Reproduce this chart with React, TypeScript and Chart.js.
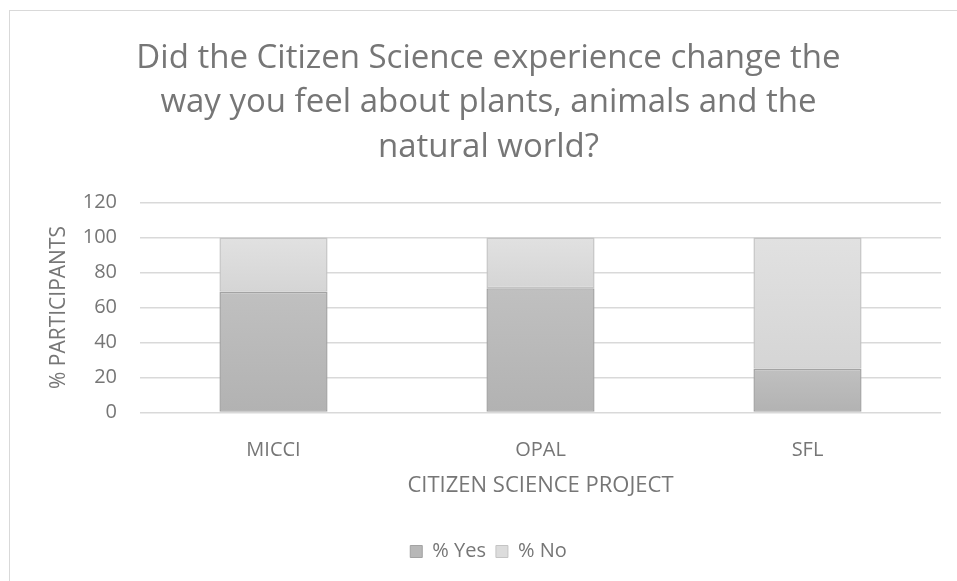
import { useEffect, useRef } from "react";
import { Chart, registerables } from "chart.js";

Chart.register(...registerables);

const titleLines = [
  "Did the Citizen Science experience change the",
  "way you feel about plants, animals and the",
  "natural world?",
];
const categories = ["MICCI", "OPAL", "SFL"];
const seriesNames = ["% Yes", "% No"];
const yesValues = [69, 71, 25];
const noValues = [31, 29, 75];
const yAxisTitle = "% PARTICIPANTS";
const xAxisTitle = "CITIZEN SCIENCE PROJECT";
const yMin = 0;
const yMax = 120;
const yStep = 20;

const FONT = "'Open Sans', Lato, sans-serif";
const TEXT = "#767676";

// fill / edge colours for each series: [top, bottom, border]
const palette = [
  { top: "#c0c0c0", bottom: "#b2b2b2", border: "#a3a3a3", legend: "#b8b8b8" },
  { top: "#e1e1e1", bottom: "#d5d5d5", border: "#c4c4c4", legend: "#dcdcdc" },
];

const seriesData = [yesValues, noValues];

function segmentGradient(ctx: any, series: number) {
  const chart = ctx.chart;
  const yScale = chart.scales?.y;
  const p = palette[series];
  if (ctx.type !== "data" || !yScale) return p.top;
  const i = ctx.dataIndex;
  let base = 0;
  for (let s = 0; s < series; s++) base += seriesData[s][i];
  const end = base + seriesData[series][i];
  const y0 = yScale.getPixelForValue(end);
  const y1 = yScale.getPixelForValue(base);
  if (!isFinite(y0) || !isFinite(y1) || y0 === y1) return p.top;
  const g = chart.ctx.createLinearGradient(0, y0, 0, y1);
  g.addColorStop(0, p.top);
  g.addColorStop(1, p.bottom);
  return g;
}

function BarChart() {
  const ref = useRef<HTMLCanvasElement | null>(null);

  useEffect(() => {
    if (!ref.current) return;
    const chart = new Chart(ref.current, {
      type: "bar",
      data: {
        labels: categories,
        datasets: seriesData.map((values, s) => ({
          label: seriesNames[s],
          data: values,
          backgroundColor: (ctx: any) => segmentGradient(ctx, s),
          borderColor: palette[s].border,
          borderWidth: 1.5,
          borderSkipped: false,
          barPercentage: 0.81,
          categoryPercentage: 0.5,
        })),
      },
      options: {
        animation: false,
        responsive: false,
        maintainAspectRatio: false,
        layout: { padding: { left: 36, right: 16, top: 0, bottom: 9.5 } },
        scales: {
          x: {
            stacked: true,
            grid: { display: false, drawTicks: false },
            border: { display: false },
            ticks: { color: TEXT, font: { family: FONT, size: 20 }, padding: 26 },
            title: {
              display: true,
              text: xAxisTitle,
              color: TEXT,
              font: { family: FONT, size: 22 },
              padding: { top: 0, bottom: 32.5 },
            },
            afterFit: (scale: any) => {
              scale.height = 119;
            },
          },
          y: {
            stacked: true,
            min: yMin,
            max: yMax,
            grid: { color: "#d9d9d9", lineWidth: 1.5, drawTicks: false },
            border: { display: false },
            ticks: {
              stepSize: yStep,
              color: TEXT,
              font: { family: FONT, size: 20 },
              padding: 23,
            },
            title: {
              display: true,
              text: yAxisTitle,
              color: TEXT,
              font: { family: FONT, size: 21 },
              padding: { top: 10, bottom: 0 },
            },
            afterFit: (scale: any) => {
              scale.width = 104;
            },
          },
        },
        plugins: {
          title: {
            display: true,
            text: titleLines,
            color: TEXT,
            font: { family: FONT, size: 33, weight: "normal", lineHeight: "44.5px" },
            padding: { top: 36, bottom: 33 },
          },
          legend: {
            position: "bottom",
            labels: {
              color: TEXT,
              font: { family: FONT, size: 20 },
              boxWidth: 12,
              boxHeight: 12,
              padding: 10,
              generateLabels: () =>
                seriesNames.map((name, s) => ({
                  text: name,
                  fillStyle: palette[s].legend,
                  strokeStyle: palette[s].border,
                  lineWidth: 1,
                  fontColor: TEXT,
                  datasetIndex: s,
                  hidden: false,
                })),
            },
          },
          tooltip: { enabled: false },
        },
      } as any,
    });
    return () => chart.destroy();
  }, []);

  return <canvas ref={ref} width={957} height={581} style={{ position: "absolute", left: 0, top: 0 }} />;
}

export default function App() {
  return (
    <div style={{ position: "fixed", left: 0, top: 0, width: 957, height: 581, background: "#fff", overflow: "hidden" }}>
      <div
        style={{
          position: "absolute",
          left: 9,
          top: 10,
          width: 1000,
          height: 1000,
          borderLeft: "1px solid #d9d9d9",
          borderTop: "1px solid #d9d9d9",
        }}
      />
      <BarChart />
    </div>
  );
}
